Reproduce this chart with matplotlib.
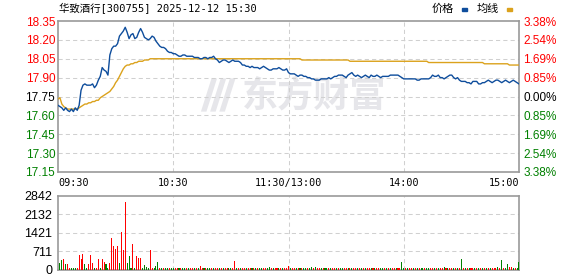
import matplotlib
matplotlib.use("Agg")
import matplotlib.pyplot as plt
from matplotlib.patches import Polygon

PREV_CLOSE = 17.75
TITLE = "华致酒行[300755] 2025-12-12 15:30"

TIME_TICKS = [0, 60, 120, 180, 240]
TIME_LABELS = ["09:30", "10:30", "11:30/13:00", "14:00", "15:00"]
PRICE_TICKS = [17.15, 17.30, 17.45, 17.60, 17.75, 17.90, 18.05, 18.20, 18.35]
VOL_TICKS = [0, 711, 1421, 2132, 2842]

# one value per minute, 09:30 .. 11:30 then 13:00 .. 15:00
price = [
    17.68, 17.67, 17.66, 17.64, 17.66, 17.64, 17.63, 17.65, 17.63, 17.66,
    17.64, 17.68, 17.80, 17.84, 17.85, 17.84, 17.84, 17.84, 17.85, 17.82,
    17.84, 17.88, 17.91, 17.98, 17.96, 17.95, 17.92, 18.08, 18.13, 18.15,
    18.15, 18.17, 18.23, 18.25, 18.27, 18.30, 18.26, 18.21, 18.24, 18.25,
    18.21, 18.22, 18.26, 18.29, 18.26, 18.22, 18.21, 18.20, 18.21, 18.23,
    18.22, 18.19, 18.17, 18.15, 18.14, 18.14, 18.13, 18.11, 18.10, 18.10,
    18.09, 18.09, 18.08, 18.07, 18.07, 18.08, 18.08, 18.07, 18.07, 18.07,
    18.07, 18.06, 18.06, 18.06, 18.05, 18.05, 18.06, 18.06, 18.05, 18.06,
    18.06, 18.07, 18.05, 18.04, 18.02, 18.03, 18.04, 18.04, 18.03, 18.02,
    18.03, 18.04, 18.03, 18.03, 18.03, 18.02, 18.00, 18.00, 17.99, 17.99,
    17.98, 17.99, 17.98, 17.98, 17.98, 17.97, 17.98, 17.99, 17.98, 17.97,
    17.96, 17.96, 17.97, 17.97, 17.97, 17.98, 17.97, 17.96, 17.96, 17.97,
    17.94, 17.93, 17.93, 17.93, 17.92, 17.91, 17.92, 17.92, 17.91, 17.91,
    17.90, 17.90, 17.89, 17.89, 17.88, 17.88, 17.88, 17.89, 17.89, 17.89,
    17.89, 17.90, 17.89, 17.90, 17.91, 17.91, 17.92, 17.92, 17.92, 17.91,
    17.90, 17.92, 17.93, 17.94, 17.92, 17.91, 17.92, 17.91, 17.90, 17.91,
    17.92, 17.91, 17.90, 17.92, 17.91, 17.91, 17.92, 17.91, 17.90, 17.91,
    17.91, 17.91, 17.91, 17.92, 17.92, 17.92, 17.92, 17.92, 17.91, 17.90,
    17.89, 17.89, 17.89, 17.89, 17.89, 17.89, 17.89, 17.88, 17.88, 17.89,
    17.89, 17.89, 17.89, 17.89, 17.90, 17.92, 17.91, 17.91, 17.92, 17.90,
    17.90, 17.89, 17.90, 17.91, 17.92, 17.92, 17.90, 17.89, 17.90, 17.88,
    17.87, 17.87, 17.87, 17.86, 17.86, 17.85, 17.87, 17.87, 17.87, 17.85,
    17.85, 17.86, 17.86, 17.87, 17.88, 17.87, 17.86, 17.87, 17.88, 17.88,
    17.87, 17.86, 17.87, 17.88, 17.87, 17.86, 17.87, 17.88, 17.87, 17.86,
    17.85,
]

avg_price = [
    17.73, 17.74, 17.69, 17.67, 17.66, 17.65, 17.65, 17.65, 17.65, 17.65,
    17.65, 17.66, 17.67, 17.68, 17.69, 17.69, 17.70, 17.70, 17.71, 17.71,
    17.72, 17.72, 17.74, 17.75, 17.76, 17.77, 17.78, 17.79, 17.81, 17.83,
    17.86, 17.88, 17.91, 17.94, 17.97, 17.99, 18.00, 18.00, 18.01, 18.01,
    18.02, 18.02, 18.03, 18.03, 18.03, 18.04, 18.04, 18.04, 18.05, 18.05,
    18.05, 18.05, 18.05, 18.05, 18.05, 18.05, 18.05, 18.05, 18.05, 18.05,
    18.05, 18.05, 18.05, 18.05, 18.05, 18.05, 18.05, 18.05, 18.05, 18.05,
    18.05, 18.05, 18.05, 18.05, 18.05, 18.05, 18.05, 18.05, 18.05, 18.05,
    18.05, 18.05, 18.05, 18.05, 18.05, 18.05, 18.05, 18.05, 18.05, 18.05,
    18.05, 18.05, 18.05, 18.05, 18.05, 18.05, 18.05, 18.05, 18.05, 18.05,
    18.05, 18.05, 18.05, 18.05, 18.05, 18.05, 18.05, 18.05, 18.05, 18.05,
    18.05, 18.05, 18.05, 18.05, 18.05, 18.05, 18.05, 18.05, 18.05, 18.05,
    18.05, 18.05, 18.05, 18.05, 18.05, 18.05, 18.05, 18.04, 18.04, 18.04,
    18.04, 18.04, 18.04, 18.04, 18.04, 18.04, 18.04, 18.04, 18.04, 18.04,
    18.04, 18.04, 18.04, 18.04, 18.04, 18.04, 18.04, 18.04, 18.04, 18.04,
    18.04, 18.04, 18.03, 18.03, 18.03, 18.03, 18.03, 18.03, 18.03, 18.03,
    18.03, 18.03, 18.03, 18.03, 18.03, 18.03, 18.03, 18.03, 18.03, 18.03,
    18.03, 18.03, 18.03, 18.03, 18.03, 18.03, 18.03, 18.03, 18.03, 18.03,
    18.03, 18.03, 18.03, 18.03, 18.03, 18.03, 18.03, 18.03, 18.03, 18.03,
    18.03, 18.03, 18.03, 18.02, 18.02, 18.02, 18.02, 18.02, 18.02, 18.02,
    18.02, 18.02, 18.02, 18.02, 18.02, 18.02, 18.02, 18.02, 18.02, 18.02,
    18.02, 18.02, 18.02, 18.02, 18.02, 18.02, 18.02, 18.02, 18.02, 18.02,
    18.02, 18.02, 18.01, 18.01, 18.01, 18.01, 18.01, 18.01, 18.01, 18.01,
    18.01, 18.01, 18.01, 18.01, 18.01, 18.00, 18.00, 18.00, 18.00, 18.00,
    18.00,
]

volume = [
    0, 265, 368, 407, 213, 213, 45, 62, 40, 62,
    40, 562, 420, 601, 213, 40, 213, 562, 252, 40,
    62, 407, 62, 407, 291, 213, 40, 252, 1222, 911,
    795, 911, 252, 1455, 756, 2618, 252, 524, 62, 989,
    62, 524, 434, 446, 62, 175, 97, 62, 756, 40,
    40, 136, 291, 48, 40, 52, 45, 48, 40, 50,
    45, 52, 40, 48, 45, 50, 40, 48, 52, 45,
    48, 40, 50, 45, 136, 45, 48, 40, 52, 45,
    40, 48, 45, 50, 40, 45, 48, 52, 40, 45,
    50, 45, 330, 40, 48, 45, 52, 40, 45, 48,
    40, 50, 45, 48, 40, 62, 45, 52, 40, 48,
    97, 45, 40, 50, 45, 48, 40, 45, 52, 48,
    136, 45, 40, 48, 50, 45, 40, 62, 48, 45,
    52, 71, 97, 45, 97, 40, 48, 45, 50, 40,
    45, 48, 62, 40, 50, 45, 48, 40, 52, 45,
    48, 40, 45, 50, 45, 40, 48, 52, 45, 40,
    50, 45, 48, 40, 45, 52, 40, 48, 45, 50,
    40, 45, 48, 52, 40, 45, 50, 45, 40, 291,
    45, 48, 40, 50, 45, 52, 40, 45, 48, 40,
    50, 45, 40, 48, 45, 52, 40, 45, 50, 48,
    40, 97, 45, 48, 40, 50, 45, 40, 52, 45,
    407, 45, 40, 48, 50, 45, 40, 48, 45, 52,
    40, 45, 50, 48, 40, 45, 52, 71, 45, 97,
    48, 368, 40, 45, 213, 97, 97, 48, 40, 45,
    291,
]

# r = up tick, g = down tick
vol_dir = (
    "rggrgrrggg" "rrrrggrrrg" "rrgrrggrrr" "rrgrrrgggr" "grrrggggrr"
    "gggrgrggrg" "grrgrggrgr" "rgrgrrgrgg" "rgrrgrgrrg" "grrgrgrrgr"
    "rgrgrggrrg" "grgrrgrgrr" "rgrrgrgrgg" "rggrgrrgrg" "grgrrgrggr"
    "rgrgrrgrgr" "grrgrgrrgg" "rgrgrrgrrg" "grgrrgrgrg" "grggrrgrgr"
    "rgrgrrgrgr" "grgrgrrgrg" "rgrgrgrrrg" "rgrggrrgrg" "g"
)

BLUE = "#0e4d9c"
GOLD = "#dba21c"
RED = "#ff0000"
GREEN = "#008000"
GRID = "#d0d0d0"
FRAME = "#999999"
MARK = "#e6e6ea"
MONO = ["DejaVu Sans Mono", "Noto Sans CJK SC"]

minutes = list(range(len(price)))

fig = plt.figure(figsize=(5.78, 2.76), dpi=100)
ax = fig.add_axes([58 / 578, 1 - 172 / 276, 461 / 578, 151 / 276])
axv = fig.add_axes([58 / 578, 1 - 269.5 / 276, 461 / 578, 73.5 / 276])


def frame(a):
    for s in a.spines.values():
        s.set_color(FRAME)
        s.set_linewidth(1.2)
    a.set_xlim(0, 240)
    a.tick_params(length=0)


# ── price panel ───────────────────────────────────────────────
frame(ax)
ax.set_ylim(PRICE_TICKS[0], PRICE_TICKS[-1])
for p in PRICE_TICKS[1:-1]:
    ax.axhline(p, color=GRID, lw=0.75, ls=(0, (4, 3)), zorder=1)
for t in TIME_TICKS[1:-1]:
    ax.axvline(t, color=GRID, lw=0.75, ls=(0, (4, 3)), zorder=1)

# watermark: logo strokes + brand name (axes fraction coords)
for dx in (0.0, 0.02, 0.04):
    logo = Polygon([(0.310 + dx, 0.40), (0.322 + dx, 0.40), (0.345 + dx, 0.62),
                    (0.333 + dx, 0.62)], closed=True, color=MARK,
                   transform=ax.transAxes, zorder=0, lw=0)
    ax.add_patch(logo)
ax.text(0.555, 0.50, "东方财富", family="Noto Sans CJK SC", fontweight="bold",
        fontsize=26, color=MARK, ha="center", va="center", zorder=0,
        transform=ax.transAxes)

ax.plot(minutes, avg_price, color=GOLD, lw=1.0, zorder=3)
ax.plot(minutes, price, color=BLUE, lw=1.0, zorder=4)


def side_color(p):
    if abs(p - PREV_CLOSE) < 1e-6:
        return "black"
    return RED if p > PREV_CLOSE else GREEN


ax.set_yticks(PRICE_TICKS)
ax.set_yticklabels([f"{p:.2f}" for p in PRICE_TICKS],
                   family="Liberation Sans", fontsize=8.5)
ax.tick_params(axis="y", pad=2)
for lab, p in zip(ax.get_yticklabels(), PRICE_TICKS):
    lab.set_color(side_color(p))

ax.set_xticks(TIME_TICKS)
ax.set_xticklabels(TIME_LABELS, family=MONO, fontsize=7.3)
ax.tick_params(axis="x", pad=4)
xl = ax.get_xticklabels()
xl[0].set_ha("left")
xl[-1].set_ha("right")

axr = ax.twinx()
axr.set_ylim(ax.get_ylim())
axr.set_yticks(PRICE_TICKS)
axr.set_yticklabels([f"{abs(p - PREV_CLOSE) / PREV_CLOSE * 100:.2f}%" for p in PRICE_TICKS],
                    family="Liberation Sans", fontsize=8.5)
axr.tick_params(length=0, pad=3)
for s in axr.spines.values():
    s.set_visible(False)
for lab, p in zip(axr.get_yticklabels(), PRICE_TICKS):
    lab.set_color(side_color(p))

# title and legend
fig.text(59 / 578, 1 - 9 / 276, TITLE, family=MONO, fontsize=7.5,
         va="center", ha="left")
fig.text(432 / 578, 1 - 9 / 276, "价格", family="Noto Sans CJK SC",
         fontsize=8, va="center", ha="left")
fig.text(477 / 578, 1 - 9 / 276, "均线", family="Noto Sans CJK SC",
         fontsize=8, va="center", ha="left")
fig.patches.append(plt.Rectangle((462 / 578, 1 - 11 / 276), 5 / 578, 3 / 276,
                                 transform=fig.transFigure, color=BLUE))
fig.patches.append(plt.Rectangle((507 / 578, 1 - 11 / 276), 5 / 578, 3 / 276,
                                 transform=fig.transFigure, color=GOLD))

# ── volume panel ──────────────────────────────────────────────
frame(axv)
axv.set_ylim(VOL_TICKS[0], VOL_TICKS[-1])
for v in VOL_TICKS[1:-1]:
    axv.axhline(v, color=GRID, lw=0.75, ls=(0, (4, 3)), zorder=1)
for t in TIME_TICKS[1:-1]:
    axv.axvline(t, color=GRID, lw=0.75, ls=(0, (4, 3)), zorder=1)

bar_colors = [RED if d == "r" else GREEN for d in vol_dir]
axv.bar(minutes, volume, width=0.55, color=bar_colors, linewidth=0, zorder=3)

axv.set_xticks([])
axv.set_yticks(VOL_TICKS)
axv.set_yticklabels([str(v) for v in VOL_TICKS], family="Liberation Sans",
                    fontsize=9, color="black")
axv.tick_params(axis="y", pad=4)

fig.savefig("out.png", dpi=100)
